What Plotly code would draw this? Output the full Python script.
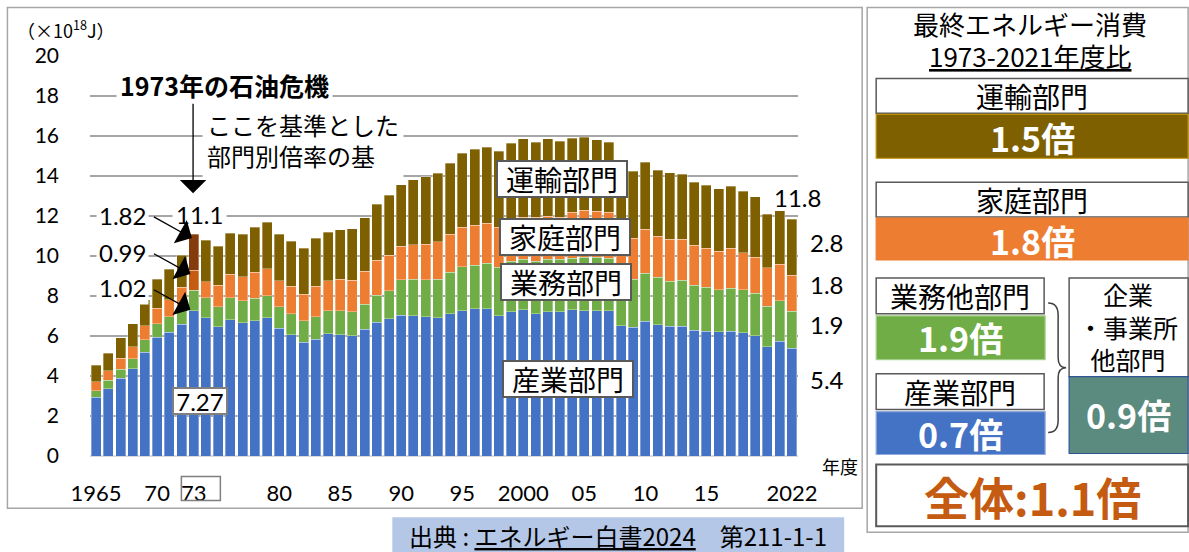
import plotly.graph_objects as go

# ---------------- data (×10^18 J) ----------------
years = list(range(1965, 2023))
industry = [2.93, 3.37, 3.88, 4.36, 5.20, 5.93, 6.18, 6.58, 7.27, 6.92,
            6.47, 6.82, 6.67, 6.77, 6.92, 6.39, 6.06, 5.70, 5.83, 6.11,
            6.07, 6.01, 6.33, 6.69, 6.86, 7.03, 7.02, 6.97, 6.91, 7.12,
            7.27, 7.36, 7.37, 7.02, 7.22, 7.31, 7.12, 7.22, 7.22, 7.31,
            7.26, 7.26, 7.26, 6.52, 6.44, 6.73, 6.56, 6.48, 6.48, 6.30,
            6.24, 6.21, 6.24, 6.17, 6.02, 5.46, 5.73, 5.38]
commercial = [0.34, 0.41, 0.47, 0.50, 0.61, 0.69, 0.79, 0.93, 1.02, 1.00,
              1.00, 1.10, 1.09, 1.12, 1.09, 1.08, 1.06, 1.07, 1.14, 1.16,
              1.20, 1.20, 1.26, 1.36, 1.41, 1.79, 1.83, 1.85, 1.94, 2.07,
              2.20, 2.18, 2.27, 2.43, 2.53, 2.54, 2.63, 2.63, 2.63, 2.59,
              2.69, 2.69, 2.64, 2.38, 2.40, 2.41, 2.37, 2.25, 2.31, 2.25,
              2.21, 2.11, 2.16, 2.15, 2.11, 2.02, 2.04, 1.86]
residential = [0.45, 0.48, 0.55, 0.60, 0.70, 0.77, 0.84, 0.94, 0.99, 0.80,
               1.08, 1.18, 1.21, 1.30, 1.36, 1.30, 1.37, 1.33, 1.52, 1.50,
               1.58, 1.58, 1.66, 1.73, 1.76, 1.66, 1.71, 1.78, 1.86, 1.89,
               1.98, 2.01, 1.99, 2.00, 2.10, 2.10, 2.20, 2.15, 2.08, 2.30,
               2.33, 2.29, 2.28, 2.15, 2.04, 2.19, 2.05, 2.12, 2.06, 1.98,
               1.93, 1.93, 2.00, 1.85, 1.82, 1.94, 1.82, 1.81]
transport = [0.83, 0.89, 1.01, 1.15, 1.30, 1.44, 1.54, 1.60, 1.82, 2.06,
             1.95, 2.05, 2.13, 2.24, 2.33, 2.31, 2.24, 2.30, 2.39, 2.41,
             2.47, 2.57, 2.66, 2.80, 3.00, 3.08, 3.26, 3.36, 3.42, 3.55,
             3.70, 3.79, 3.81, 3.80, 3.80, 3.92, 3.74, 3.87, 3.81, 3.70,
             3.65, 3.58, 3.52, 3.65, 3.37, 3.37, 3.31, 3.31, 3.25, 3.17,
             3.16, 3.11, 3.10, 3.08, 3.01, 2.66, 2.67, 2.80]

tick_years = [1965, 1970, 1973, 1980, 1985, 1990, 1995, 2000, 2005, 2010, 2015, 2022]
tick_text = ["1965", "70", "73", "80", "85", "90", "95", "2000", "05", "10", "15", "2022"]

base_year = 1973
base_labels = ["1.82", "0.99", "1.02"]
base_total = "11.1"
base_industry = "7.27"
last_labels = ["11.8", "2.8", "1.8", "1.9", "5.4"]

# ---------------- styling ----------------
W, H = 1189, 552
L, R, T, B = 89.6, 797.8, 55.5, 456.5

def px(x):
    return (x - L) / (R - L)

def py(y):
    return (B - y) / (B - T)

C_IND, C_COM, C_RES, C_TRA = "#4472C4", "#70AD47", "#ED7D31", "#7F6000"
C_RES_HI, C_TRA_HI = "#C55A11", "#843C0C"
JP = "Noto Sans CJK JP"
NUM = "Lato"

def colors(base, hi=None):
    return [hi if (hi and y == base_year) else base for y in years]

fig = go.Figure()
series = [
    ("産業部門", industry, colors(C_IND)),
    ("業務部門", commercial, colors(C_COM)),
    ("家庭部門", residential, colors(C_RES, C_RES_HI)),
    ("運輸部門", transport, colors(C_TRA, C_TRA_HI)),
]
for name, vals, cols in series:
    fig.add_trace(go.Bar(x=years, y=vals, name=name,
                         marker=dict(color=cols, line=dict(color="rgba(255,255,255,0.55)", width=0.6))))

shapes = []
ann = []

def rect(x0, y0, x1, y1, fill="rgba(0,0,0,0)", line="#595959", lw=1.5):
    shapes.append(dict(type="rect", xref="paper", yref="paper",
                       x0=px(x0), x1=px(x1), y0=py(y1), y1=py(y0),
                       fillcolor=fill, line=dict(color=line, width=lw), layer="above"))

def text(x, y, s, size=20, color="black", family=JP, bg=None, border=None, bw=0,
         xanchor="center", align="center", width=None, height=None, pad=1):
    d = dict(xref="paper", yref="paper", x=px(x), y=py(y), text=s, showarrow=False,
             xanchor=xanchor, yanchor="middle", align=align,
             font=dict(size=size, color=color, family=family), borderpad=pad)
    if bg:
        d["bgcolor"] = bg
    if border:
        d["bordercolor"] = border
        d["borderwidth"] = bw
    if width:
        d["width"] = width
    if height:
        d["height"] = height
    ann.append(d)

def arrow(tx, ty, sx, sy):
    ann.append(dict(xref="paper", yref="paper", x=px(tx), y=py(ty), text="",
                    showarrow=True, ax=sx - tx, ay=sy - ty, axref="pixel", ayref="pixel",
                    arrowhead=1, arrowsize=3.4, arrowwidth=1.3, arrowcolor="black", standoff=0))

# panel borders
rect(7, 7, 862, 509, line="#A6A6A6", lw=1.5)
rect(867, 7, 1188, 533, line="#A6A6A6", lw=1.5)

# unit
text(66, 28, "（×10<sup>18</sup>J）", size=18, family=JP)

# oil-crisis note
text(224, 85, "<b>1973年の石油危機</b>", size=25, bg="white", pad=3)
text(202, 140, "ここを基準とした<br>部門別倍率の基", size=24, bg="white", xanchor="left",
     align="left", pad=4)
arrow(192.7, 193, 192.7, 102)

# base year labels
text(122, 215, base_labels[0], size=24, family=NUM, bg="white", pad=2)
text(122, 252, base_labels[1], size=24, family=NUM, bg="white", pad=2)
text(122, 288, base_labels[2], size=24, family=NUM, bg="white", pad=2)
text(199, 214, base_total, size=24, family=NUM, bg="white", pad=3)
arrow(191.5, 238, 152, 216)
arrow(190, 274, 152, 253)
arrow(190, 310, 152, 289)
text(199.5, 401, base_industry, size=24, family=NUM, bg="white", border="#7F7F7F", bw=2,
     width=50, height=22, pad=1)

# last year labels
text(797, 197, last_labels[0], size=24, family=NUM)
for yv, s in zip([242, 285, 325, 380], last_labels[1:]):
    text(827, yv, s, size=24, family=NUM)

# sector labels
for (cx, cy), s in zip([(562, 179), (565, 237), (566, 282), (568, 379)],
                       ["運輸部門", "家庭部門", "業務部門", "産業部門"]):
    text(cx, cy, s, size=28, bg="white", border="#595959", bw=2, width=126, height=32, pad=1)

# x unit and 73 box
text(840, 467, "年度", size=18)
rect(181, 477, 220, 501, line="#7F7F7F", lw=1.5)

# source
shapes.append(dict(type="rect", xref="paper", yref="paper", x0=px(392), x1=px(844),
                   y0=py(553), y1=py(518), fillcolor="#B4C7E7", line=dict(width=0), layer="above"))
text(618, 536, "出典 : <u>エネルギー白書2024</u>　第211-1-1", size=24)

# right panel
text(1030, 23, "最終エネルギー消費", size=26)
text(1030, 55, "<u>1973-2021年度比</u>", size=26)

rect(876, 78, 1188, 113, fill="white")
text(1032, 96, "運輸部門", size=28)
rect(876, 114, 1188, 158, fill=C_TRA, line="#BF9000", lw=1.2)
text(1032, 137, "<b>1.5倍</b>", size=34, color="white")

rect(876, 182, 1188, 217, fill="white")
text(1032, 200, "家庭部門", size=28)
rect(876, 218, 1188, 260, fill=C_RES, line=C_RES, lw=1.2)
text(1032, 240, "<b>1.8倍</b>", size=34, color="white")

rect(876, 278, 1044, 314, fill="white")
text(960, 296, "業務他部門", size=28)
rect(876, 316, 1045, 360, fill=C_COM, line="#A9D18E", lw=1.2)
text(960, 338, "<b>1.9倍</b>", size=34, color="white")

rect(876, 374, 1044, 410, fill="white")
text(960, 392, "産業部門", size=28)
rect(876, 412, 1045, 455, fill=C_IND, line="#8FAADC", lw=1.2)
text(960, 434, "<b>0.7倍</b>", size=34, color="white")

rect(1069, 278, 1188, 377, fill="white")
text(1128, 327, "企業<br>・事業所<br>他部門", size=25)
rect(1069, 377, 1188, 454, fill="#5B8A7E", line="#2F5597", lw=1.2)
text(1128, 415, "<b>0.9倍</b>", size=34, color="white")

# brace
path = (f"M {px(1048)},{py(303)} Q {px(1058)},{py(303)} {px(1058)},{py(315)} "
        f"L {px(1058)},{py(358)} Q {px(1058)},{py(368)} {px(1066)},{py(368)} "
        f"Q {px(1058)},{py(368)} {px(1058)},{py(378)} L {px(1058)},{py(421)} "
        f"Q {px(1058)},{py(433)} {px(1048)},{py(433)}")
shapes.append(dict(type="path", xref="paper", yref="paper", path=path,
                   line=dict(color="#404040", width=1.5), layer="above"))

rect(876, 465, 1188, 527, fill="white", lw=2)
text(1032, 497, "<b>全体:1.1倍</b>", size=45, color="#C55A11")

fig.update_layout(
    width=W, height=H,
    margin=dict(l=L, r=W - R, t=T, b=H - B, autoexpand=False),
    barmode="stack", bargap=0.18,
    showlegend=False,
    paper_bgcolor="white", plot_bgcolor="white",
    shapes=shapes, annotations=ann,
    xaxis=dict(range=[1964.5, 2022.5], tickvals=tick_years, ticktext=tick_text,
               showgrid=False, zeroline=False, showline=False, ticks="",
               tickfont=dict(size=22, family=NUM, color="black"),
               ticklabelstandoff=22, automargin=False),
    yaxis=dict(range=[0, 20], dtick=2, showgrid=True, gridcolor="#A6A6A6", gridwidth=1.5,
               zeroline=True, zerolinecolor="#D9D9D9", zerolinewidth=2, showline=False,
               ticks="", tickfont=dict(size=21, family=NUM, color="black"),
               ticklabelstandoff=30, automargin=False),
)

fig.write_html("out.html", config={"displayModeBar": False},
               post_script="document.body.style.margin='0px';document.body.style.overflow='hidden';")
